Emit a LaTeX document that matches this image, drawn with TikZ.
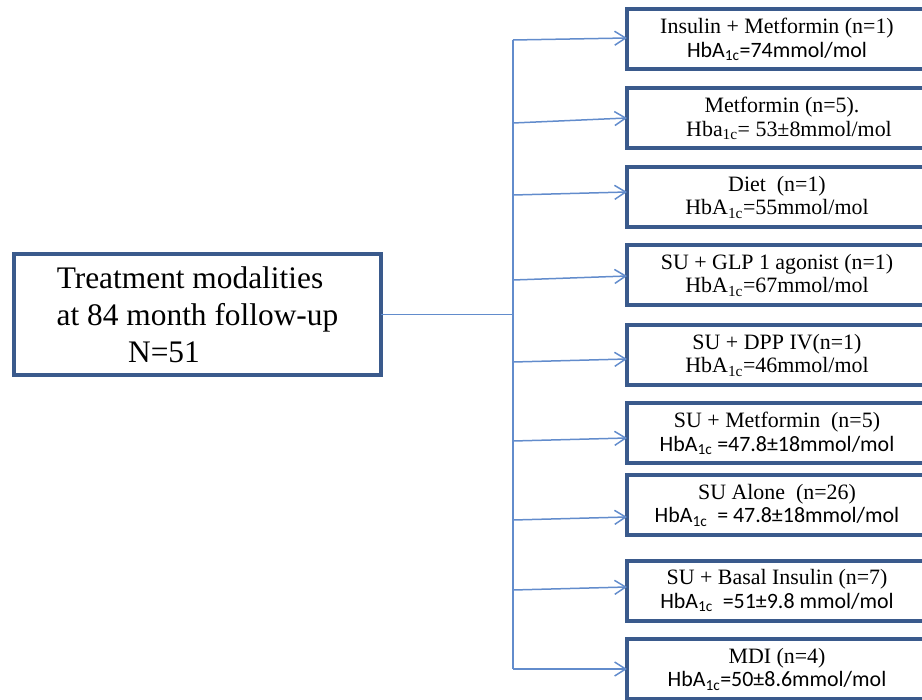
\documentclass[tikz,border=0pt]{standalone}
\usepackage{fontspec}
\setmainfont{Liberation Serif}
\newfontfamily\calib{Carlito}
\usetikzlibrary{arrows.meta}
\definecolor{boxblue}{RGB}{58,90,140}
\definecolor{linkblue}{RGB}{98,140,204}

\begin{document}
\begin{tikzpicture}[x=1bp,y=-1bp,
    rootbox/.style={draw=boxblue,line width=4bp,outer sep=0pt,inner sep=0pt,
      minimum width=367bp,minimum height=121bp,align=center,
      font=\fontsize{31.5}{37}\selectfont},
    modbox/.style={draw=boxblue,line width=4bp,outer sep=0pt,inner sep=0pt,
      minimum width=300bp,minimum height=60bp,anchor=west,align=center,
      font=\fontsize{22}{24}\selectfont},
    trunk/.style={draw=linkblue,line width=1.5bp},
    branch/.style={trunk,-{Straight Barb[length=11bp,width=14bp]}}]
  \useasboundingbox (0,0) rectangle (922,700);

  % racine
  \node[rootbox] (root) at (197.5,314.5)
    {Treatment modalities\hspace*{15bp}\\at 84 month follow-up\hspace*{15bp}\\N=51\hspace*{67bp}};

  % traitements
  \node[modbox] (b1) at (627,39)
    {Insulin + Metformin (n=1)\\{\calib HbA\textsubscript{1c}=74mmol/mol}};
  \node[modbox] (b2) at (627,118)
    {\hspace*{10bp}Metformin (n=5).\\\hspace*{24bp}Hba\textsubscript{1c}= 53\textpm8mmol/mol};
  \node[modbox] (b3) at (627,197)
    {Diet\ \ (n=1)\\HbA\textsubscript{1c}=55mmol/mol};
  \node[modbox] (b4) at (627,275)
    {SU + GLP 1 agonist (n=1)\\HbA\textsubscript{1c}=67mmol/mol};
  \node[modbox] (b5) at (627,355)
    {SU + DPP IV(n=1)\\HbA\textsubscript{1c}=46mmol/mol};
  \node[modbox] (b6) at (627,433)
    {SU + Metformin\ \ (n=5)\\{\calib HbA\textsubscript{1c} =47.8\textpm18mmol/mol}};
  \node[modbox] (b7) at (627,505)
    {SU Alone\ \ (n=26)\\{\calib HbA\textsubscript{1c}\ \ = 47.8\textpm18mmol/mol}};
  \node[modbox] (b8) at (627,590.5)
    {SU + Basal Insulin (n=7)\\{\calib HbA\textsubscript{1c}\ \ =51\textpm9.8 mmol/mol}};
  \node[modbox] (b9) at (627,669)
    {MDI (n=4)\\{\calib HbA\textsubscript{1c}=50\textpm8.6mmol/mol}};

  % tronc
  \coordinate (s1) at (513,40);
  \coordinate (s2) at (513,123);
  \coordinate (s3) at (513,195);
  \coordinate (s4) at (513,280);
  \coordinate (s5) at (513,362);
  \coordinate (s6) at (513,441);
  \coordinate (s7) at (513,520);
  \coordinate (s8) at (513,590);
  \coordinate (s9) at (513,669);
  \draw[trunk] (s1) -- (s9);
  \draw[trunk] (root.east) -- (root.east -| s1);

  % fleches
  \draw[branch] (s1) -- (b1.west |- 0,38);
  \draw[branch] (s2) -- (b2.west |- 0,118);
  \draw[branch] (s3) -- (b3.west |- 0,192);
  \draw[branch] (s4) -- (b4.west |- 0,276);
  \draw[branch] (s5) -- (b5.west |- 0,359);
  \draw[branch] (s6) -- (b6.west |- 0,438);
  \draw[branch] (s7) -- (b7.west |- 0,517);
  \draw[branch] (s8) -- (b8.west |- 0,587);
  \draw[branch] (s9) -- (b9.west |- 0,669);
\end{tikzpicture}
\end{document}
